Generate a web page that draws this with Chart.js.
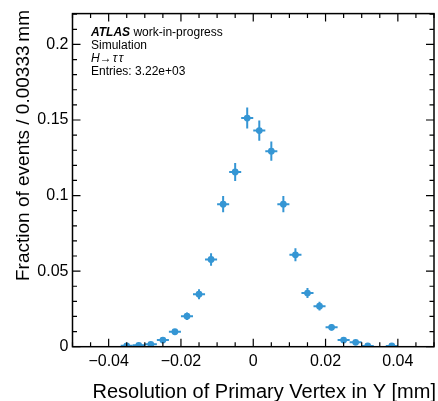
<!DOCTYPE html>
<html>
<head>
<meta charset="utf-8">
<script src="https://cdn.jsdelivr.net/npm/chart.js@4"></script>
<style>
  html, body { margin: 0; padding: 0; background: #fff; }
  #wrap { width: 438px; height: 401px; }
</style>
</head>
<body>
<div id="wrap"><canvas id="chart" width="438" height="401"></canvas></div>
<script>
// bin centres (mm), bin width 0.00333 mm
const binCenters = [-0.035, -0.03167, -0.02833, -0.025, -0.02167, -0.01833, -0.015, -0.01167,
  -0.00833, -0.005, -0.00167, 0.00167, 0.005, 0.00833, 0.01167, 0.015, 0.01833, 0.02167,
  0.025, 0.02833, 0.03167, 0.03833];
const fractions = [0.0006, 0.0009, 0.0016, 0.0044, 0.0099, 0.0202, 0.0347, 0.0577,
  0.0943, 0.1156, 0.1513, 0.1430, 0.1294, 0.0943, 0.0608, 0.0355, 0.0268, 0.0128,
  0.0044, 0.0029, 0.0005, 0.0005];
const fractionErr = [0.0004, 0.0005, 0.0007, 0.0012, 0.0018, 0.0025, 0.0033, 0.0042,
  0.0054, 0.0060, 0.0069, 0.0067, 0.0063, 0.0054, 0.0043, 0.0033, 0.0029, 0.0020,
  0.0012, 0.0010, 0.0004, 0.0004];
const halfBin = 0.001667;

const xTicks = [-0.04, -0.02, 0, 0.02, 0.04];
const yTicks = [0, 0.05, 0.1, 0.15, 0.2];

const blue = '#3596d4';
const font = "'Liberation Sans', Arial, sans-serif";

function fmt(v) {
  if (Math.abs(v) < 1e-9) return '0';
  const s = String(+v.toFixed(3));
  return v < 0 ? '\u2212' + s.slice(1) : s;
}

// error bars (x: bin half width, y: stat error)
const errorBars = {
  id: 'errorBars',
  beforeDatasetsDraw(chart) {
    const c = chart.ctx, xs = chart.scales.x, ys = chart.scales.y;
    c.save();
    c.strokeStyle = blue;
    c.lineWidth = 2;
    for (let i = 0; i < binCenters.length; i++) {
      const px = xs.getPixelForValue(binCenters[i]);
      const py = ys.getPixelForValue(fractions[i]);
      c.beginPath();
      c.moveTo(xs.getPixelForValue(binCenters[i] - halfBin), py);
      c.lineTo(xs.getPixelForValue(binCenters[i] + halfBin), py);
      c.moveTo(px, ys.getPixelForValue(fractions[i] - fractionErr[i]));
      c.lineTo(px, ys.getPixelForValue(fractions[i] + fractionErr[i]));
      c.stroke();
    }
    c.restore();
  }
};

// frame, inward ticks on all sides, labels
const frame = {
  id: 'frame',
  afterDraw(chart) {
    const c = chart.ctx, a = chart.chartArea, xs = chart.scales.x, ys = chart.scales.y;
    c.save();
    c.strokeStyle = '#000';
    c.lineWidth = 1.5;
    c.strokeRect(a.left, a.top, a.right - a.left, a.bottom - a.top);
    c.lineWidth = 1.2;
    c.beginPath();
    for (let k = -10; k <= 10; k++) {
      const v = k * 0.005;
      const major = k % 4 === 0 && Math.abs(k) < 10;
      const len = major ? 8 : 4.5;
      const px = xs.getPixelForValue(v);
      c.moveTo(px, a.bottom); c.lineTo(px, a.bottom - len);
      c.moveTo(px, a.top); c.lineTo(px, a.top + len);
    }
    for (let k = 0; k <= 22; k++) {
      const v = k * 0.01;
      const major = k % 5 === 0;
      const len = major ? 8 : 4.5;
      const py = ys.getPixelForValue(v);
      c.moveTo(a.left, py); c.lineTo(a.left + len, py);
      c.moveTo(a.right, py); c.lineTo(a.right - len, py);
    }
    c.stroke();

    // axis titles
    c.fillStyle = '#000';
    c.font = '20px ' + font;
    c.textAlign = 'right';
    c.textBaseline = 'alphabetic';
    c.fillText('Resolution of Primary Vertex in Y [mm]', 436, 398);
    c.save();
    c.translate(29, 10);
    c.rotate(-Math.PI / 2);
    c.font = '19px ' + font;
    c.fillText('Fraction of events / 0.00333\u2009mm', 0, 0);
    c.restore();

    // legend text
    c.textAlign = 'left';
    let x = 91;
    c.font = 'italic bold 12px ' + font;
    c.fillText('ATLAS', x, 36);
    x += c.measureText('ATLAS').width;
    c.font = '12px ' + font;
    c.fillText(' work-in-progress', x, 36);
    c.fillText('Simulation', 91, 49);
    c.font = 'italic 12px ' + font;
    c.fillText('H', 91, 62);
    let hx = 91 + c.measureText('H').width;
    c.font = '12px ' + font;
    c.fillText('\u2192', hx, 62);
    hx += c.measureText('\u2192').width + 1;
    c.font = 'italic 12px ' + font;
    c.fillText('\u03c4', hx, 62);
    hx += c.measureText('\u03c4').width + 1.5;
    c.fillText('\u03c4', hx, 62);
    c.font = '12px ' + font;
    c.fillText('Entries: 3.22e+03', 91, 75);
    c.restore();
  }
};

new Chart(document.getElementById('chart').getContext('2d'), {
  type: 'scatter',
  data: {
    datasets: [{
      data: binCenters.map((x, i) => ({ x: x, y: fractions[i] })),
      backgroundColor: blue,
      borderColor: blue,
      pointRadius: 3.4,
      pointBorderWidth: 0
    }]
  },
  options: {
    responsive: false,
    animation: false,
    layout: { padding: { top: 12, right: 1.5, left: 0, bottom: 0 } },
    plugins: { legend: { display: false }, tooltip: { enabled: false } },
    scales: {
      x: {
        type: 'linear',
        min: -0.05, max: 0.05,
        grid: { display: false, drawTicks: false },
        border: { display: false },
        afterBuildTicks: s => { s.ticks = xTicks.map(v => ({ value: v })); },
        afterFit: s => { s.height = 54.3; },
        ticks: {
          padding: 5,
          color: '#000',
          font: { family: font, size: 16 },
          maxRotation: 0,
          callback: v => fmt(v)
        }
      },
      y: {
        type: 'linear',
        min: 0, max: 0.2204,
        grid: { display: false, drawTicks: false },
        border: { display: false },
        afterBuildTicks: s => { s.ticks = yTicks.map(v => ({ value: v })); },
        afterFit: s => { s.width = 72.5; },
        ticks: {
          padding: 4,
          color: '#000',
          font: { family: font, size: 16 },
          callback: v => fmt(v)
        }
      }
    }
  },
  plugins: [errorBars, frame]
});
</script>
</body>
</html>
